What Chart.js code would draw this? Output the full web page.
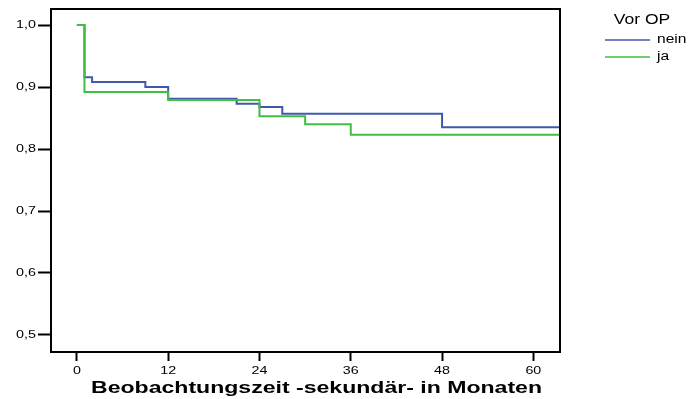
<!DOCTYPE html>
<html>
<head>
<meta charset="utf-8">
<script src="https://cdn.jsdelivr.net/npm/chart.js@4/dist/chart.umd.min.js"></script>
<style>
  html, body { margin: 0; padding: 0; background: #ffffff; }
  canvas { display: block; }
</style>
</head>
<body>
<canvas id="km" width="689" height="399"></canvas>
<script>
// Kaplan-Meier survival curves by group "Vor OP"
const legendTitle = 'Vor OP';
const groupLabels = ['nein', 'ja'];

// event times (months) and survival after each step
const neinTimes = [0, 1, 2, 9, 12, 21, 24, 27, 48, 63.5];
const neinSurv  = [1.0, 0.916, 0.908, 0.900, 0.881, 0.873, 0.868, 0.857, 0.835, 0.835];

const jaTimes = [0, 1, 12, 24, 30, 36, 63.5];
const jaSurv  = [1.0, 0.892, 0.879, 0.853, 0.840, 0.823, 0.823];

const xTicks = [0, 12, 24, 36, 48, 60];
const yTicks = [0.5, 0.6, 0.7, 0.8, 0.9, 1.0];

const xTitle = 'Beobachtungszeit -sekundär- in Monaten';

const colors = ['#4259aa', '#3fc042'];

const toPoints = (xs, ys) => xs.map((x, i) => ({ x: x, y: ys[i] }));

const FONT = '"Liberation Sans", Arial, sans-serif';

// text drawn with a horizontal stretch (wide export look)
function wideText(ctx, text, x, y, font, sx, align) {
  ctx.save();
  ctx.font = font;
  ctx.textBaseline = 'middle';
  ctx.textAlign = 'left';
  const w = ctx.measureText(text).width * sx;
  let x0 = x;
  if (align === 'center') x0 = x - w / 2;
  else if (align === 'right') x0 = x - w;
  ctx.translate(x0, y);
  ctx.scale(sx, 1);
  ctx.fillText(text, 0, 0);
  ctx.restore();
}

// frame around the plot area
const framePlugin = {
  id: 'frame',
  afterDatasetsDraw(chart) {
    const a = chart.chartArea;
    const ctx = chart.ctx;
    ctx.save();
    ctx.strokeStyle = '#000000';
    ctx.lineWidth = 2;
    ctx.strokeRect(a.left, a.top, a.right - a.left, a.bottom - a.top);
    ctx.restore();
  }
};

// tick labels and axis title
const axisTextPlugin = {
  id: 'axisText',
  afterDraw(chart) {
    const ctx = chart.ctx;
    const xs = chart.scales.x;
    const ys = chart.scales.y;
    ctx.save();
    ctx.fillStyle = '#000000';
    const tickFont = '11px ' + FONT;
    xs.ticks.forEach(t => {
      wideText(ctx, String(t.value), xs.getPixelForValue(t.value), 371, tickFont, 1.3, 'center');
    });
    ys.ticks.forEach(t => {
      const label = t.value.toFixed(1).replace('.', ',');
      wideText(ctx, label, 36, ys.getPixelForValue(t.value), tickFont, 1.3, 'right');
    });
    // axis title stretched to its width under the plot
    const titleFont = 'bold 16px ' + FONT;
    ctx.font = titleFont;
    const sx = 451 / ctx.measureText(xTitle).width;
    wideText(ctx, xTitle, 316.5, 388.5, titleFont, sx, 'center');
    ctx.restore();
  }
};

// legend to the right of the plot
const legendPlugin = {
  id: 'sideLegend',
  afterDraw(chart) {
    const ctx = chart.ctx;
    ctx.save();
    ctx.fillStyle = '#000000';
    wideText(ctx, legendTitle, 642, 20, '14px ' + FONT, 1.25, 'center');
    groupLabels.forEach((label, i) => {
      const ds = chart.data.datasets[i];
      const y = 40 + i * 17;
      ctx.strokeStyle = ds.borderColor;
      ctx.lineWidth = 1.5;
      ctx.beginPath();
      ctx.moveTo(605, y);
      ctx.lineTo(650, y);
      ctx.stroke();
      wideText(ctx, label, 657, y, '12px ' + FONT, 1.3, 'left');
    });
    ctx.restore();
  }
};

new Chart(document.getElementById('km'), {
  type: 'line',
  data: {
    datasets: [
      {
        label: groupLabels[0],
        data: toPoints(neinTimes, neinSurv),
        borderColor: colors[0],
        borderWidth: 2,
        stepped: 'before',
        pointRadius: 0,
        fill: false,
        order: 1
      },
      {
        label: groupLabels[1],
        data: toPoints(jaTimes, jaSurv),
        borderColor: colors[1],
        borderWidth: 2,
        stepped: 'before',
        pointRadius: 0,
        fill: false,
        order: 0
      }
    ]
  },
  options: {
    responsive: false,
    devicePixelRatio: 1,
    animation: false,
    layout: { padding: { left: 0, top: 9, right: 129, bottom: 0 } },
    plugins: {
      legend: { display: false },
      tooltip: { enabled: false }
    },
    scales: {
      x: {
        type: 'linear',
        min: -3.4,
        max: 63.5,
        afterBuildTicks: (s) => { s.ticks = xTicks.map(v => ({ value: v })); },
        afterFit: (s) => { s.height = 47; },
        border: { display: false },
        grid: {
          drawOnChartArea: false,
          drawTicks: true,
          tickLength: 9,
          tickWidth: 2,
          tickColor: '#000000'
        },
        ticks: { display: false, autoSkip: false }
      },
      y: {
        type: 'linear',
        min: 0.4725,
        max: 1.026,
        afterBuildTicks: (s) => { s.ticks = yTicks.map(v => ({ value: v })); },
        afterFit: (s) => { s.width = 51; },
        border: { display: false },
        grid: {
          drawOnChartArea: false,
          drawTicks: true,
          tickLength: 13,
          tickWidth: 2,
          tickColor: '#000000'
        },
        ticks: { display: false, autoSkip: false }
      }
    }
  },
  plugins: [framePlugin, axisTextPlugin, legendPlugin]
});
</script>
</body>
</html>
